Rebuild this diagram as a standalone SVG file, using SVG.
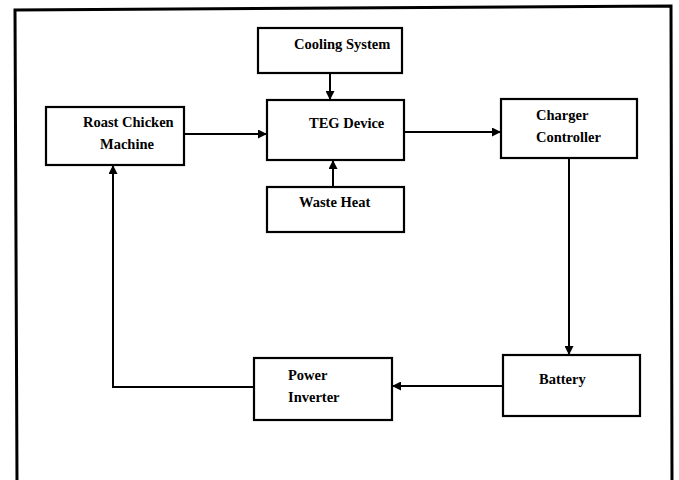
<svg xmlns="http://www.w3.org/2000/svg" width="679" height="480" viewBox="0 0 679 480">
<style>
.box{fill:#fff;stroke:#000;stroke-width:2.2}
.lbl{font-family:"Liberation Serif","DejaVu Serif",serif;font-weight:bold;font-size:14.5px;fill:#000}
.conn{fill:none;stroke:#000;stroke-width:2}
</style>
<defs>
<marker id="ah" viewBox="0 0 10 10" refX="10" refY="5" markerWidth="4.5" markerHeight="4.5" orient="auto" markerUnits="strokeWidth">
<path d="M0,0 L10,5 L0,10 z" fill="#000"/>
</marker>
</defs>
<rect width="679" height="480" fill="#fff"/>
<path d="M17,480 L15,10 L671,6 L672,480" fill="none" stroke="#000" stroke-width="3"/>
<g id="connectors">
<path class="conn" d="M330,73 L330,100" marker-end="url(#ah)"/>
<path class="conn" d="M333,187 L333,160" marker-end="url(#ah)"/>
<path class="conn" d="M184,134 L267,134" marker-end="url(#ah)"/>
<path class="conn" d="M404,132 L501,132" marker-end="url(#ah)"/>
<path class="conn" d="M569,158 L569,355" marker-end="url(#ah)"/>
<path class="conn" d="M503,386 L392,386" marker-end="url(#ah)"/>
<path class="conn" d="M254,387 L113,387 L113,165" marker-end="url(#ah)"/>
</g>
<g id="cooling">
<rect class="box" x="258" y="28" width="144" height="45"/>
<text class="lbl" x="294" y="49">Cooling System</text>
</g>
<g id="teg">
<rect class="box" x="267" y="100" width="137" height="60"/>
<text class="lbl" x="309" y="128">TEG Device</text>
</g>
<g id="waste">
<rect class="box" x="267" y="187" width="137" height="45"/>
<text class="lbl" x="299" y="207">Waste Heat</text>
</g>
<g id="roast">
<rect class="box" x="46" y="107" width="138" height="58"/>
<text class="lbl" x="83" y="127">Roast Chicken</text>
<text class="lbl" x="100" y="149">Machine</text>
</g>
<g id="charger">
<rect class="box" x="501" y="99" width="136" height="59"/>
<text class="lbl" x="536" y="120">Charger</text>
<text class="lbl" x="536" y="142">Controller</text>
</g>
<g id="battery">
<rect class="box" x="503" y="355" width="137" height="61"/>
<text class="lbl" x="539" y="384">Battery</text>
</g>
<g id="inverter">
<rect class="box" x="254" y="358" width="138" height="62"/>
<text class="lbl" x="288" y="380">Power</text>
<text class="lbl" x="288" y="402">Inverter</text>
</g>
</svg>
